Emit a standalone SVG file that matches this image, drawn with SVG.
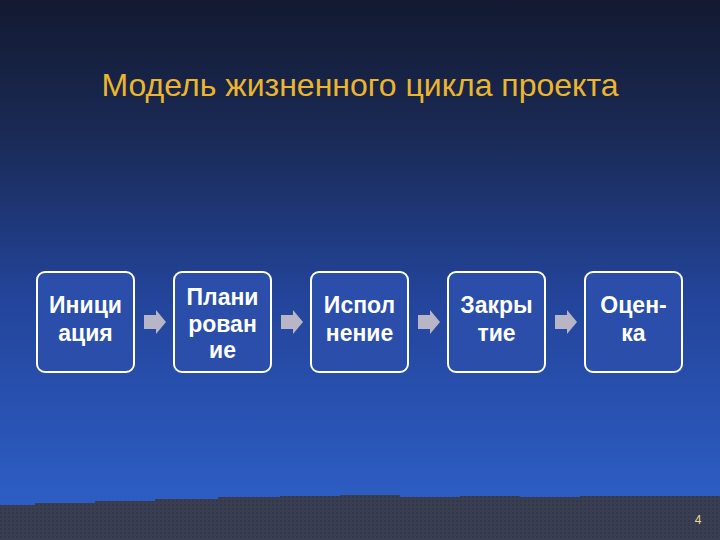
<svg xmlns="http://www.w3.org/2000/svg" width="720" height="540" viewBox="0 0 720 540">
<defs>
<linearGradient id="bg" x1="0" y1="0" x2="0" y2="1">
<stop offset="0" stop-color="#131a31"/>
<stop offset="0.25" stop-color="#1a2a55"/>
<stop offset="0.55" stop-color="#23449a"/>
<stop offset="1" stop-color="#2f62cc"/>
</linearGradient>
<pattern id="dots" width="4" height="4" patternUnits="userSpaceOnUse">
<rect width="4" height="4" fill="#3a3e52"/>
<rect width="2" height="2" fill="#33374a"/>
</pattern>
</defs>
<style>
.box{fill:#2a4eaa;stroke:#ffffff;stroke-width:2}
.lbl{font-family:"Liberation Sans",Arial,sans-serif;font-weight:bold;font-size:23px;fill:#ffffff;text-anchor:middle}
.arr{fill:#b8b6c6}
</style>
<rect width="720" height="540" fill="url(#bg)"/>
<polygon points="0,505 35,505 35,503 95,503 95,501 155,501 155,499 218,499 218,497 280,497 280,496 340,496 340,495 400,495 400,497 460,497 460,496 520,496 520,497 580,497 580,496 720,496 720,540 0,540" fill="url(#dots)"/>
<text x="360" y="96" font-family="Liberation Sans,Arial,sans-serif" font-size="32" fill="#ebb52e" text-anchor="middle">Модель жизненного цикла проекта</text>
<g id="connectors">
<polygon class="arr" points="144,315 156,315 156,310 166,322 156,334 156,329 144,329"/>
<polygon class="arr" points="281,315 293,315 293,310 303,322 293,334 293,329 281,329"/>
<polygon class="arr" points="418,315 430,315 430,310 440,322 430,334 430,329 418,329"/>
<polygon class="arr" points="555,315 567,315 567,310 577,322 567,334 567,329 555,329"/>
</g>
<g id="n1"><rect class="box" x="37" y="272" width="97" height="100" rx="8"/>
<text class="lbl" x="85.5" y="313">Иници</text><text class="lbl" x="85.5" y="341">ация</text></g>
<g id="n2"><rect class="box" x="174" y="272" width="97" height="100" rx="8"/>
<text class="lbl" x="222.5" y="305">Плани</text><text class="lbl" x="222.5" y="332">рован</text><text class="lbl" x="222.5" y="358">ие</text></g>
<g id="n3"><rect class="box" x="311" y="272" width="97" height="100" rx="8"/>
<text class="lbl" x="359.5" y="313">Испол</text><text class="lbl" x="359.5" y="341">нение</text></g>
<g id="n4"><rect class="box" x="448" y="272" width="97" height="100" rx="8"/>
<text class="lbl" x="496.5" y="313">Закры</text><text class="lbl" x="496.5" y="341">тие</text></g>
<g id="n5"><rect class="box" x="585" y="272" width="97" height="100" rx="8"/>
<text class="lbl" x="633.5" y="313">Оцен-</text><text class="lbl" x="633.5" y="341">ка</text></g>
<text x="698" y="524" font-family="Liberation Sans,Arial,sans-serif" font-size="12" fill="#e8d8a0" text-anchor="middle">4</text>
</svg>
